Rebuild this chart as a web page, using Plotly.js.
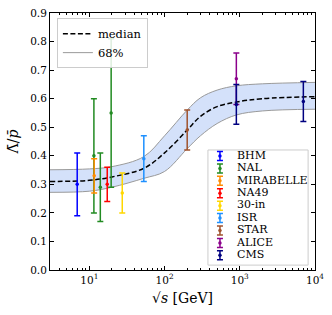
<!DOCTYPE html>
<html><head><meta charset="utf-8">
<script src="https://cdn.plot.ly/plotly-3.0.1.min.js"></script>
<style>html,body{margin:0;padding:0;background:#fff}</style>
</head><body><div id="chart" style="width:332px;height:315px"></div>
<script>
// Posterior curve
const curveX  = [3, 10, 20, 53, 100, 200, 300, 500, 900, 2000, 10000];
const median  = [0.310, 0.314, 0.326, 0.356, 0.410, 0.490, 0.538, 0.572, 0.588, 0.600, 0.607];
const upper68 = [0.351, 0.354, 0.362, 0.397, 0.470, 0.560, 0.603, 0.630, 0.645, 0.652, 0.657];
const lower68 = [0.272, 0.276, 0.290, 0.321, 0.345, 0.425, 0.470, 0.513, 0.543, 0.557, 0.563];

// Experimental data
const series = ['BHM', 'NAL', 'MIRABELLE', 'NA49', '30-in', 'ISR', 'STAR', 'ALICE', 'CMS'];
const colors = ['#0000ff', '#228b22', '#ff8c00', '#ff0000', '#ffd700', '#1e90ff', '#a0522d', '#8b008b', '#000080'];
const sqrtS  = [[6.9], [11.5, 14, 19.5], [11.6], [17.3], [27.4], [53], [200], [900], [900, 7000]];
const ratio  = [[0.30], [0.40, 0.29, 0.55], [0.33], [0.30], [0.27], [0.39], [0.49], [0.67], [0.58, 0.59]];
const errLo  = [[0.19], [0.20, 0.17, 0.29], [0.27], [0.24], [0.20], [0.31], [0.42], [0.58], [0.51, 0.52]];
const errHi  = [[0.41], [0.60, 0.41, 0.81], [0.39], [0.36], [0.34], [0.47], [0.56], [0.76], [0.65, 0.66]];

const xTickVals = [10, 100, 1000, 10000];
const xTickText = ['10<sup>1</sup>', '10<sup>2</sup>', '10<sup>3</sup>', '10<sup>4</sup>'];

const FONT = '"DejaVu Serif", "Liberation Serif", serif';
const minorVals = [3];
for (let d = 1; d <= 1000; d *= 10) for (let m = 2; m <= 9; m++) if (m * d > 3) minorVals.push(m * d);

const traces = [];
traces.push({x: curveX, y: lower68, mode: 'lines', name: '68%',
  line: {color: '#9a9a9a', width: 1, shape: 'spline'}, hoverinfo: 'skip'});
traces.push({x: curveX, y: upper68, mode: 'lines', showlegend: false, fill: 'tonexty',
  fillcolor: 'rgba(100,149,237,0.28)', line: {color: '#9a9a9a', width: 1, shape: 'spline'}, hoverinfo: 'skip'});
traces.push({x: curveX, y: median, mode: 'lines', name: 'median',
  line: {color: '#000', width: 1.5, dash: '5px,2.5px', shape: 'spline'}});

series.forEach((s, i) => {
  traces.push({
    x: sqrtS[i], y: ratio[i], mode: 'markers', name: s, showlegend: false,
    marker: {color: colors[i], size: 3.5},
    error_y: {type: 'data', symmetric: false,
      array: errHi[i].map((h, k) => h - ratio[i][k]),
      arrayminus: errLo[i].map((l, k) => ratio[i][k] - l),
      color: colors[i], thickness: 1.5, width: 3}
  });
});

// second legend drawn in an overlay frame
const legY = series.map((s, i) => 6 + 12.4 * i);
series.forEach((s, i) => {
  traces.push({
    x: [12], y: [legY[i]], xaxis: 'x2', yaxis: 'y2', mode: 'markers', showlegend: false,
    marker: {color: colors[i], size: 3.5}, hoverinfo: 'skip',
    error_y: {type: 'constant', value: 4.5, color: colors[i], thickness: 1.5, width: 3}
  });
});
traces.push({x: series.map(() => 29), y: legY, text: series, mode: 'text', xaxis: 'x2', yaxis: 'y2',
  textposition: 'middle right', showlegend: false, hoverinfo: 'skip',
  textfont: {family: FONT, size: 11, color: '#000'}});

const axisCommon = {
  ticks: 'inside', ticklen: 4, tickwidth: 1, tickcolor: '#000',
  showline: true, linecolor: '#000', linewidth: 1, mirror: 'ticks',
  showgrid: false, zeroline: false,
  tickfont: {family: FONT, size: 10.5, color: '#000'}
};

const layout = {
  width: 332, height: 315,
  margin: {l: 50, r: 17, t: 13, b: 45},
  paper_bgcolor: '#fff', plot_bgcolor: 'rgba(0,0,0,0)',
  font: {family: FONT, color: '#000'},
  xaxis: Object.assign({}, axisCommon, {
    type: 'log', range: [Math.log10(3), 4],
    tickmode: 'array', tickvals: xTickVals, ticktext: xTickText,
    minor: {tickmode: 'array', tickvals: minorVals, ticks: 'inside', ticklen: 2, tickcolor: '#000', showgrid: false},
    title: {text: '√<i>s</i> [GeV]', font: {family: FONT, size: 14, color: '#000'}, standoff: 8}
  }),
  yaxis: Object.assign({}, axisCommon, {
    range: [0, 0.9], dtick: 0.1, tickformat: '.1f',
    title: {text: 'Λ\u0304/<i>p\u0304</i>', font: {family: FONT, size: 14, color: '#000'}, standoff: 8}
  }),
  xaxis2: {domain: [0.596, 0.974], anchor: 'y2', range: [0, 100], visible: false, fixedrange: true},
  yaxis2: {domain: [0.019, 0.467], anchor: 'x2', range: [115, 0], visible: false, fixedrange: true},
  shapes: [{type: 'rect', xref: 'paper', yref: 'paper', x0: 0.596, x1: 0.974, y0: 0.019, y1: 0.467,
    fillcolor: 'rgba(255,255,255,0.85)', line: {color: '#cccccc', width: 1}, layer: 'below'}],
  legend: {x: 0.026, y: 0.98, xanchor: 'left', yanchor: 'top', traceorder: 'reversed',
    bgcolor: 'rgba(255,255,255,0.85)', bordercolor: '#cccccc', borderwidth: 1,
    font: {family: FONT, size: 11.5, color: '#000'}, tracegroupgap: 0, itemwidth: 30},
  showlegend: true
};

Plotly.newPlot('chart', traces, layout, {staticPlot: true, displayModeBar: false});
</script>
</body></html>
